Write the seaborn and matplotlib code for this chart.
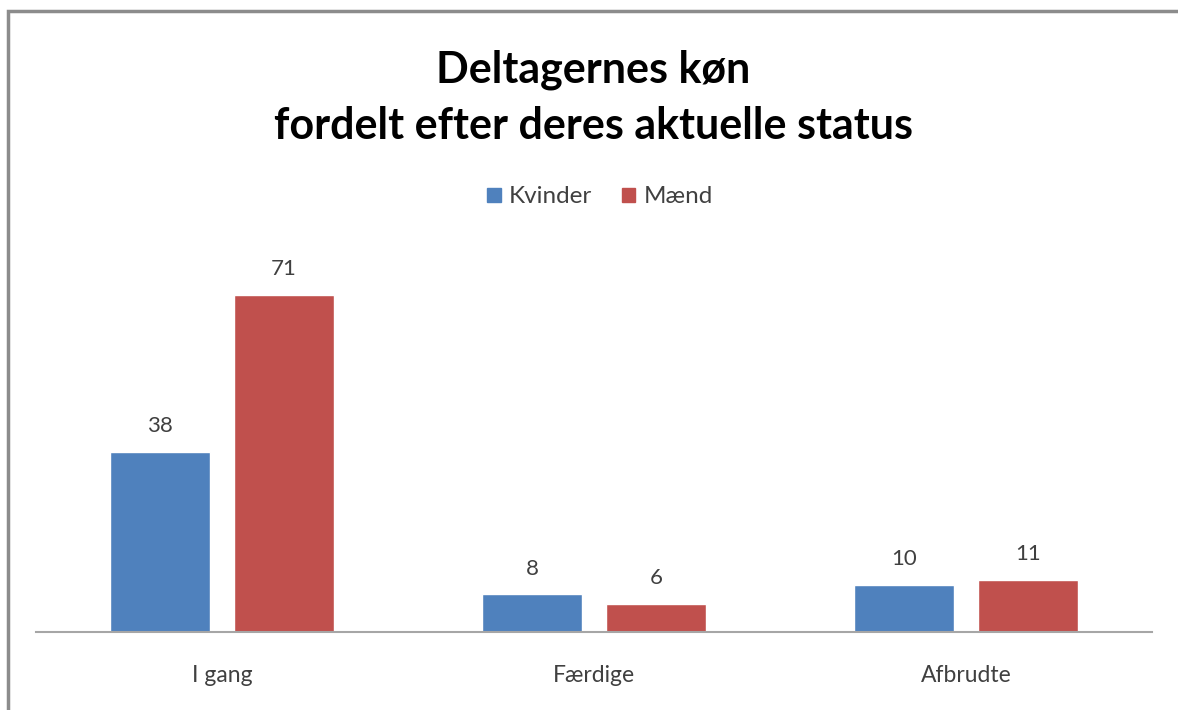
import pandas as pd
import seaborn as sns
import matplotlib.pyplot as plt
from matplotlib.patches import Rectangle

# Data
categories = ['I gang', 'Færdige', 'Afbrudte']
kvinder = [38, 8, 10]
maend = [71, 6, 11]
series = ['Kvinder', 'Mænd']

df = pd.DataFrame({
    'status': categories * 2,
    'køn': [series[0]] * 3 + [series[1]] * 3,
    'antal': kvinder + maend,
})

sns.set_style('white')
plt.rcParams['font.family'] = ['Lato', 'DejaVu Sans']

fig = plt.figure(figsize=(11.78, 7.1), dpi=100)
ax = fig.add_axes([36 / 1178, 78 / 710, 1116 / 1178, 380 / 710])

sns.barplot(data=df, x='status', y='antal', hue='køn', order=categories,
            hue_order=series, palette=['#4F81BD', '#C0504D'],
            width=0.667, gap=0.2, saturation=1, ax=ax, legend=False)

for cont in ax.containers:
    ax.bar_label(cont, padding=11, fontsize=16, color='#404040')

ax.set_ylim(0, 80)
ax.set_xlim(-0.5, 2.5)
ax.set_xlabel('')
ax.set_ylabel('')
ax.set_yticks([])
ax.tick_params(axis='x', length=0, pad=24, labelsize=16.5, labelcolor='#404040')
for s in ['top', 'right', 'left']:
    ax.spines[s].set_visible(False)
ax.spines['bottom'].set_color('#A6A6A6')
ax.spines['bottom'].set_linewidth(1.5)

# Title
fig.text(593 / 1178, 1 - 70 / 710, 'Deltagernes køn', ha='center', va='center',
         fontsize=31, fontweight='bold', color='black')
fig.text(593 / 1178, 1 - 126 / 710, 'fordelt efter deres aktuelle status',
         ha='center', va='center', fontsize=31, fontweight='bold', color='black')

# Legend
handles = [Rectangle((0, 0), 1, 1, color=c) for c in ['#4F81BD', '#C0504D']]
fig.legend(handles, series, loc='center', bbox_to_anchor=(600 / 1178, 1 - 197 / 710),
           ncol=2, frameon=False, fontsize=17.5, handlelength=0.55, handleheight=0.55,
           handletextpad=0.35, columnspacing=1.2, labelcolor='#404040')

# Chart border
fig.patches.append(Rectangle((8 / 1178, -0.5), 2.0, 1.5 - 11 / 710,
                             transform=fig.transFigure, fill=False,
                             edgecolor='#8C8C8C', linewidth=2.5))

fig.savefig('out.png', dpi=100, facecolor='white')
